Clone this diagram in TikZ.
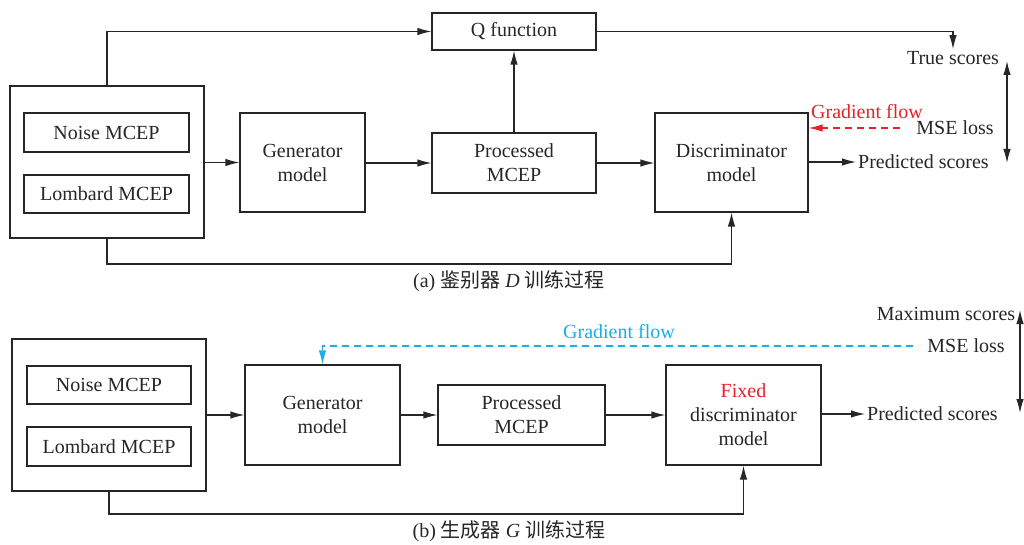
\documentclass[tikz,border=0pt]{standalone}
\usepackage{fontspec}
\setmainfont{Liberation Serif}
\newfontfamily\cjk{Noto Sans CJK SC}
\usetikzlibrary{arrows.meta}
\definecolor{gred}{HTML}{E8202A}
\definecolor{gblue}{HTML}{1AAEE8}
\definecolor{ink}{HTML}{262626}
\begin{document}
\begin{tikzpicture}[x=1pt,y=-1pt,
  every node/.style={font=\fontsize{20}{24}\selectfont, text=ink},
  box/.style={draw=ink, line width=1.2pt, inner sep=0pt, align=center},
  lbl/.style={inner sep=2pt},
  arr/.style={draw=ink, line width=1.2pt, -{Latex[length=14pt,width=7.5pt]}},
  darr/.style={draw=ink, line width=1.2pt, {Latex[length=14pt,width=7.5pt]}-{Latex[length=14pt,width=7.5pt]}},
  dsh/.style={line width=1.2pt, dash pattern=on 7pt off 5pt, -{Latex[length=14pt,width=7.5pt]}},
  captxt/.style={font=\fontsize{20}{24}\selectfont}]
\useasboundingbox (0,0) rectangle (1024,545);
% ---------- (a) ----------
\node[box, minimum width=194pt, minimum height=152pt] (in1) at (107,162) {};
\node[box, minimum width=165pt, minimum height=39pt] (noise1) at (106.5,132.5) {Noise MCEP};
\node[box, minimum width=165pt, minimum height=38pt] (lomb1) at (106.5,194) {Lombard MCEP};
\node[box, minimum width=125pt, minimum height=99pt] (gen1) at (302.5,162.5) {Generator\\model};
\node[box, minimum width=164pt, minimum height=60pt] (proc1) at (514,163) {Processed\\MCEP};
\node[box, minimum width=164pt, minimum height=37pt] (q1) at (514,31.5) {Q function};
\node[box, minimum width=153pt, minimum height=99pt] (disc1) at (731.5,162.5) {Discriminator\\model};
\node[lbl] (true1) at (953,58) {True scores};
\node[lbl, text=gred] (grad1) at (867,112) {Gradient flow};
\node[lbl] (mse1) at (955,128) {MSE loss};
\node[lbl, anchor=west] (pred1) at (856,162) {Predicted scores};
\node[captxt] (capa) at (509,281) {(a) {\cjk 鉴别器} \textit{D} {\cjk 训练过程}};
\coordinate (fb1) at (420,264);
\coordinate (d1a) at (1007,61);
\coordinate (d1b) at (1007,163);
\draw[arr] (in1.east |- gen1) -- (gen1.west);
\draw[arr] (gen1.east |- proc1) -- (proc1.west);
\draw[arr] (proc1.east) -- (disc1.west |- proc1);
\draw[arr] (proc1.north) -- (q1.south);
\draw[arr] (in1.north) |- (q1.west);
\draw[arr] (q1.east) -| (true1.north);
\draw[arr] (disc1.east |- pred1) -- (pred1.west);
\draw[dsh, gred] ([xshift=-14pt]mse1.west) -- (disc1.east |- mse1.west);
\draw[arr] (in1.south) |- (fb1) -| (disc1.south);
\draw[darr] (d1a) -- (d1b);
% ---------- (b) ----------
\node[box, minimum width=194pt, minimum height=152pt] (in2) at (109,415) {};
\node[box, minimum width=164pt, minimum height=38pt] (noise2) at (109,385) {Noise MCEP};
\node[box, minimum width=164pt, minimum height=39pt] (lomb2) at (109,446.5) {Lombard MCEP};
\node[box, minimum width=155pt, minimum height=100pt] (gen2) at (322.5,415) {Generator\\model};
\node[box, minimum width=167pt, minimum height=60pt] (proc2) at (521.5,415) {Processed\\MCEP};
\node[box, minimum width=155pt, minimum height=100pt] (disc2) at (743.5,415) {\textcolor{gred}{Fixed}\\discriminator\\model};
\node[lbl] (max2) at (946,314) {Maximum scores};
\node[lbl] (mse2) at (966,346) {MSE loss};
\node[lbl, anchor=west] (pred2) at (865,414) {Predicted scores};
\node[lbl, text=gblue] (grad2) at (619,332) {Gradient flow};
\node[captxt] (capb) at (509,531) {(b) {\cjk 生成器} \textit{G} {\cjk 训练过程}};
\coordinate (fb2) at (420,514);
\coordinate (d2a) at (1020,310);
\coordinate (d2b) at (1020,413);
\draw[arr] (in2.east) -- (gen2.west);
\draw[arr] (gen2.east) -- (proc2.west);
\draw[arr] (proc2.east) -- (disc2.west);
\draw[arr] (disc2.east |- pred2) -- (pred2.west);
\draw[dsh, gblue] ([xshift=-12pt]mse2.west) -| (gen2.north);
\draw[arr] (in2.south) |- (fb2) -| (disc2.south);
\draw[darr] (d2a) -- (d2b);
\end{tikzpicture}
\end{document}
